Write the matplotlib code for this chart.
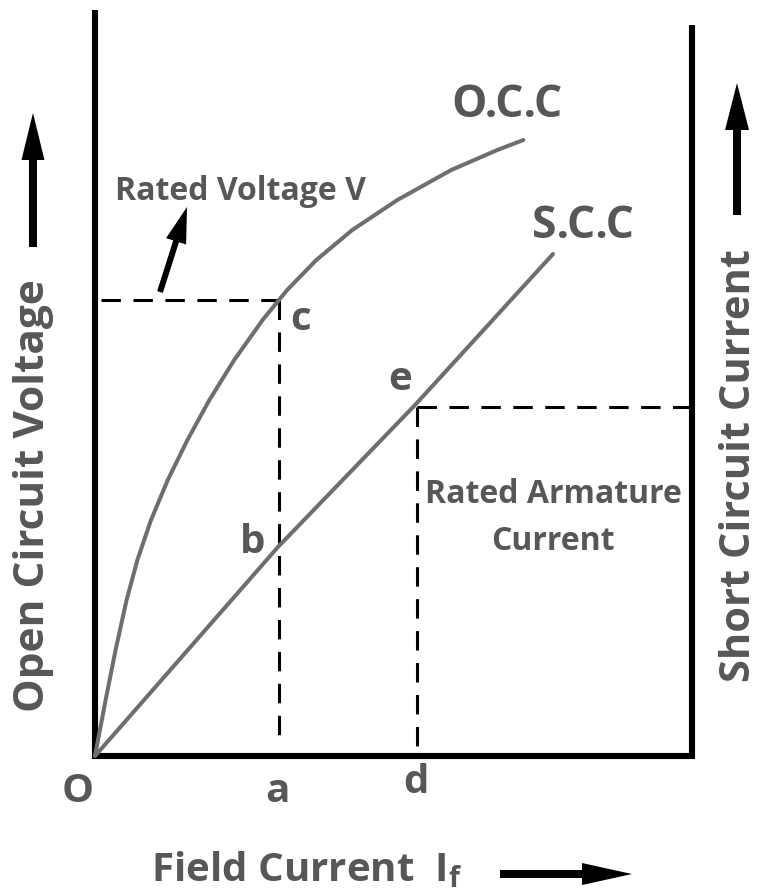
import matplotlib
matplotlib.use("Agg")
import matplotlib.pyplot as plt

plt.rcParams['font.family'] = ['Open Sans', 'DejaVu Sans']
plt.rcParams['mathtext.fontset'] = 'custom'
plt.rcParams['mathtext.rm'] = 'Open Sans:bold'
plt.rcParams['mathtext.it'] = 'Open Sans:bold'
plt.rcParams['lines.scale_dashes'] = False

# ---- data (field current units, right axis at 10) ----
occ_if = [0.0, 0.178, 0.345, 0.529, 0.710, 0.938, 1.219, 1.548, 1.916, 2.332,
          2.807, 3.219, 3.707, 4.310, 5.064, 5.968, 6.739, 7.174]
occ_v = [0.0, 0.938, 1.776, 2.613, 3.283, 3.953, 4.623, 5.293, 5.963, 6.633,
         7.303, 7.806, 8.308, 8.811, 9.313, 9.816, 10.151, 10.318]
scc_if = [0.0, 3.065, 5.360, 7.672]
scc_i = [0.0, 3.501, 5.879, 8.409]
point_a = 3.075          # field current for rated voltage
rated_v = 7.638          # point c
point_d = 5.394          # field current for rated armature current
rated_i = 5.846          # point e
x_max = 10.0
left_top = 12.496
right_top = 12.245

S = 59.7  # px per unit
TXT = '#575757'
CURVE = '#6e6e6e'

fig = plt.figure(figsize=(7.61, 8.93), dpi=100)
ax = fig.add_axes([0, 0, 1, 1])
ax.set_xlim(-95 / S, (761 - 95) / S)
ax.set_ylim(-(893 - 756) / S, 756 / S)
ax.axis('off')

# frame lines
ax.plot([0, 0, x_max, x_max], [left_top, 0, 0, right_top], color='black',
        lw=4.4, solid_joinstyle='miter', solid_capstyle='butt')

# dashed guides
dash = dict(color='black', lw=2.2, linestyle=(0, (14, 9)))
ax.plot([0.1, point_a], [rated_v, rated_v], **dash)
ax.plot([point_a, point_a], [rated_v, 0.15], **dash)
ax.plot([point_d, x_max], [rated_i, rated_i], **dash)
ax.plot([point_d, point_d], [rated_i, 0.0], **dash)

# curves
ax.plot(occ_if, occ_v, color=CURVE, lw=2.9, solid_capstyle='round', solid_joinstyle='round')
ax.plot(scc_if, scc_i, color=CURVE, lw=2.9, solid_capstyle='round', solid_joinstyle='round')

# arrows
def arr(x0, y0, x1, y1, w, hw, hl):
    ax.arrow(x0, y0, x1 - x0, y1 - y0, width=w / S, head_width=hw / S,
             head_length=hl / S, length_includes_head=True, color='black', lw=0)

arr(-1.039, 8.526, -1.039, 10.771, 8, 23, 47)
arr(10.754, 9.062, 10.754, 11.273, 8, 24, 47)
arr(6.784, -1.977, 8.995, -1.977, 8, 22, 50)
arr(1.089, 7.772, 1.541, 9.196, 6, 21, 36)

# text
big = 29
kw = dict(fontweight='bold', color=TXT)
ax.text(-1.022, 4.355, 'Open Circuit Voltage', rotation=90, ha='center', va='center',
        fontsize=30.5, **kw)
ax.text(10.804, 4.874, 'Short Circuit Current', rotation=90, ha='center', va='center',
        fontsize=30, **kw)
ax.text(3.551, -2.100, r'Field Current  I$_{\mathrm{f}}$', ha='center', va='baseline',
        fontsize=big, **kw)

ax.text(-0.285, -0.770, 'O', ha='center', va='baseline', fontsize=big, **kw)
ax.text(3.05, -0.770, 'a', ha='center', va='baseline', fontsize=big, **kw)
ax.text(5.38, -0.620, 'd', ha='center', va='baseline', fontsize=big, **kw)
ax.text(3.45, 7.136, 'c', ha='center', va='baseline', fontsize=big, **kw)
ax.text(5.109, 6.131, 'e', ha='center', va='baseline', fontsize=big, **kw)
ax.text(2.647, 3.400, 'b', ha='center', va='baseline', fontsize=big, **kw)
ax.text(6.901, 10.704, 'O.C.C', ha='center', va='baseline', fontsize=32, **kw)
ax.text(8.174, 8.677, 'S.C.C', ha='center', va='baseline', fontsize=32, **kw)

small = 23
ax.text(2.429, 9.313, 'Rated Voltage V', ha='center', va='baseline', fontsize=small, **kw)
ax.text(7.672, 4.238, 'Rated Armature', ha='center', va='baseline', fontsize=small, **kw)
ax.text(7.672, 3.451, 'Current', ha='center', va='baseline', fontsize=small, **kw)

fig.savefig('out.png', dpi=100, facecolor='white')
